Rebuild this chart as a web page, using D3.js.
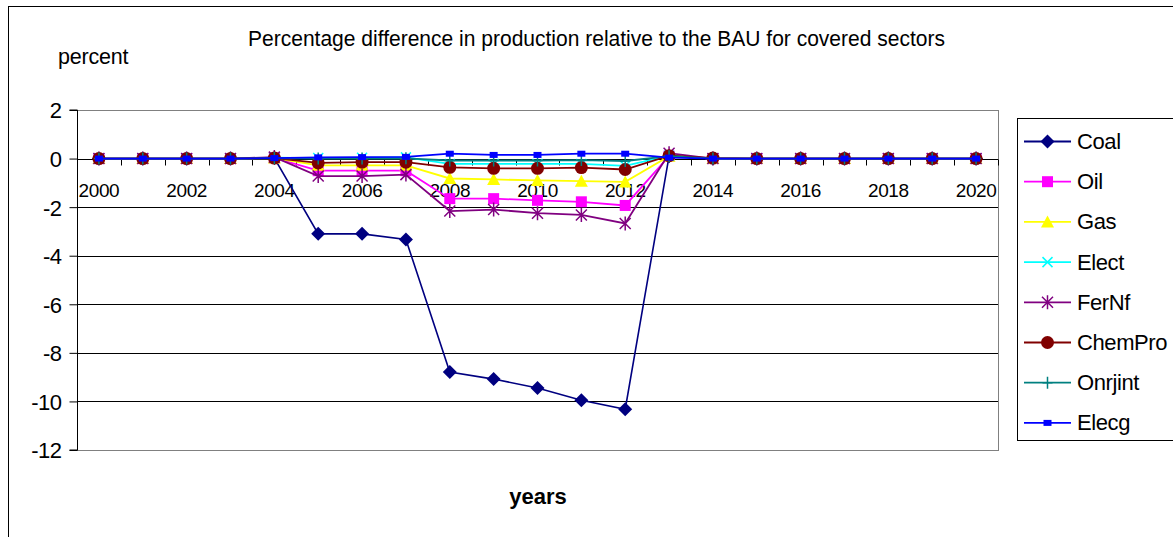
<!DOCTYPE html>
<html>
<head>
<meta charset="utf-8">
<script src="https://cdn.jsdelivr.net/npm/d3@7"></script>
<style>
  html, body { margin: 0; padding: 0; background: #fff; }
  svg { display: block; font-family: "Liberation Sans", Arial, sans-serif; }
</style>
</head>
<body>
<svg id="chart" width="1173" height="537"></svg>
<script>
// Years on the category axis
const years = d3.range(2000, 2021);
const yearLabels = years.filter(y => y % 2 === 0);
const yTicks = [2, 0, -2, -4, -6, -8, -10, -12];

// Percentage difference relative to BAU, one array per sector (2000..2020)
const coal     = [0, 0, 0, 0, 0.02, -3.1, -3.1, -3.33, -8.79, -9.08, -9.45, -9.95, -10.32, 0.1, 0, 0, 0, 0, 0, 0, 0];
const oil      = [0, 0, 0, 0, 0.03, -0.5, -0.5, -0.5, -1.65, -1.65, -1.72, -1.78, -1.93, 0.1, 0, 0, 0, 0, 0, 0, 0];
const gas      = [0, 0, 0, 0, 0.02, -0.28, -0.28, -0.28, -0.82, -0.86, -0.9, -0.93, -0.96, 0.1, 0, 0, 0, 0, 0, 0, 0];
const elect    = [0, 0, 0, 0, 0.04, 0.02, 0.03, 0.05, -0.22, -0.22, -0.22, -0.22, -0.3, 0.12, 0, 0, 0, 0, 0, 0, 0];
const fernf    = [0, 0, 0, 0, 0.06, -0.72, -0.72, -0.66, -2.16, -2.1, -2.25, -2.32, -2.67, 0.22, 0, 0, 0, 0, 0, 0, 0];
const chempro  = [0, 0, 0, 0, 0.02, -0.18, -0.15, -0.15, -0.36, -0.4, -0.4, -0.37, -0.45, 0.12, 0.02, 0, 0, 0, 0, 0, 0];
const onrjint  = [0, 0, 0, 0, 0.02, 0, 0, 0.01, -0.08, -0.08, -0.08, -0.06, -0.1, 0.1, 0, 0, 0, 0, 0, 0, 0];
const elecg    = [0, 0, 0, 0, 0.02, 0.05, 0.06, 0.07, 0.2, 0.15, 0.15, 0.2, 0.2, 0.04, 0, 0, 0, 0, 0, 0, 0];

const seriesNames = ["Coal", "Oil", "Gas", "Elect", "FerNf", "ChemPro", "Onrjint", "Elecg"];
const seriesValues = [coal, oil, gas, elect, fernf, chempro, onrjint, elecg];

const colors = {
  Coal: "#000080", Oil: "#FF00FF", Gas: "#FFFF00", Elect: "#00FFFF",
  FerNf: "#800080", ChemPro: "#800000", Onrjint: "#008080", Elecg: "#0000FF"
};

const svg = d3.select("#chart");

// Outer chart frame
svg.append("rect").attr("x", 8.5).attr("y", 6.5).attr("width", 1200).attr("height", 600)
  .attr("fill", "none").attr("stroke", "#000").attr("stroke-width", 1);

const plot = { left: 77, right: 998, top: 110, bottom: 450 };

const x = d3.scalePoint().domain(years).range([plot.left, plot.right]).padding(0.5);
const y = d3.scaleLinear().domain([-12, 2]).range([plot.bottom, plot.top]);
const step = x.step();

// Gridlines
svg.append("g").selectAll("line").data(yTicks.filter(v => v !== 2 && v !== -12 && v !== 0)).join("line")
  .attr("x1", plot.left).attr("x2", plot.right)
  .attr("y1", d => Math.round(y(d)) + 0.5).attr("y2", d => Math.round(y(d)) + 0.5)
  .attr("stroke", "#000").attr("stroke-width", 1);

// Plot area border
svg.append("rect").attr("x", plot.left + 0.5).attr("y", plot.top + 0.5)
  .attr("width", plot.right - plot.left).attr("height", plot.bottom - plot.top)
  .attr("fill", "none").attr("stroke", "#808080").attr("stroke-width", 1);

// Value axis
const yAxis = d3.axisLeft(y).tickValues(yTicks).tickSize(8).tickPadding(8).tickFormat(d => String(d));
const gy = svg.append("g").attr("transform", `translate(${plot.left + 0.5},0)`).call(yAxis);
gy.select(".domain").attr("stroke", "#000").attr("d", `M-8,${y(2)}H0V${y(-12)}H-8`);
gy.selectAll(".tick line").attr("stroke", "#000");
gy.selectAll(".tick text").attr("font-size", 22).attr("fill", "#000")
  .attr("font-family", "'Liberation Sans', Arial, sans-serif").attr("letter-spacing", -0.5)
  .attr("dy", "0.36em");

// Category axis along the zero line
const y0 = Math.round(y(0)) + 0.5;
svg.append("line").attr("x1", plot.left).attr("x2", plot.right).attr("y1", y0).attr("y2", y0)
  .attr("stroke", "#000");
svg.append("g").selectAll("line").data(d3.range(1, years.length + 1)).join("line")
  .attr("x1", k => Math.round(plot.left + k * step) + 0.5).attr("x2", k => Math.round(plot.left + k * step) + 0.5)
  .attr("y1", y0).attr("y2", y0 + 6).attr("stroke", "#000");
svg.append("g").selectAll("text").data(yearLabels).join("text")
  .attr("x", d => x(d)).attr("y", 197).attr("text-anchor", "middle")
  .attr("font-size", 19).attr("letter-spacing", -0.4).attr("fill", "#000").text(d => d);

// Marker shapes
function drawMarker(g, name, cx, cy) {
  const c = colors[name];
  if (name === "Coal") {
    g.append("path").attr("d", `M${cx},${cy - 7}L${cx + 7},${cy}L${cx},${cy + 7}L${cx - 7},${cy}Z`).attr("fill", c);
  } else if (name === "Oil") {
    g.append("rect").attr("x", cx - 5.5).attr("y", cy - 5.5).attr("width", 11).attr("height", 11).attr("fill", c);
  } else if (name === "Gas") {
    g.append("path").attr("d", `M${cx},${cy - 6.5}L${cx + 6.5},${cy + 5.5}L${cx - 6.5},${cy + 5.5}Z`).attr("fill", c);
  } else if (name === "Elect") {
    g.append("path").attr("d", `M${cx - 5},${cy - 5}L${cx + 5},${cy + 5}M${cx - 5},${cy + 5}L${cx + 5},${cy - 5}`)
      .attr("stroke", c).attr("stroke-width", 1.5);
  } else if (name === "FerNf") {
    g.append("path").attr("d", `M${cx - 5.5},${cy - 5.5}L${cx + 5.5},${cy + 5.5}M${cx - 5.5},${cy + 5.5}L${cx + 5.5},${cy - 5.5}M${cx},${cy - 7}V${cy + 7}`)
      .attr("stroke", c).attr("stroke-width", 1.5);
  } else if (name === "ChemPro") {
    g.append("circle").attr("cx", cx).attr("cy", cy).attr("r", 6.5).attr("fill", c);
  } else if (name === "Onrjint") {
    g.append("path").attr("d", `M${cx - 5},${cy}H${cx + 5}M${cx},${cy - 6}V${cy + 6}`)
      .attr("stroke", c).attr("stroke-width", 1.5);
  } else if (name === "Elecg") {
    g.append("rect").attr("x", cx - 4).attr("y", cy - 3).attr("width", 8).attr("height", 6).attr("fill", c);
  }
}

// Series lines and markers
const line = d3.line().x((d, i) => x(years[i])).y(d => y(d));
seriesNames.forEach((name, si) => {
  const vals = seriesValues[si];
  const g = svg.append("g");
  g.append("path").datum(vals).attr("d", line).attr("fill", "none")
    .attr("stroke", colors[name]).attr("stroke-width", name === "Coal" ? 1.6 : 1.8);
  vals.forEach((v, i) => drawMarker(g, name, x(years[i]), y(v)));
});

// Legend
const legend = svg.append("g");
legend.append("rect").attr("x", 1017.5).attr("y", 118.5).attr("width", 160).attr("height", 322)
  .attr("fill", "#fff").attr("stroke", "#000");
seriesNames.forEach((name, i) => {
  const ly = 141.5 + i * 40.2;
  legend.append("line").attr("x1", 1024).attr("x2", 1071).attr("y1", ly).attr("y2", ly)
    .attr("stroke", colors[name]).attr("stroke-width", 1.8);
  drawMarker(legend, name, 1047.5, ly);
  legend.append("text").attr("x", 1077).attr("y", ly + 7.5).attr("font-size", 22)
    .attr("letter-spacing", -0.4).attr("fill", "#000").text(name);
});

// Titles
svg.append("text").attr("x", 248).attr("y", 46).attr("font-size", 21.5)
  .attr("textLength", 697).attr("lengthAdjust", "spacingAndGlyphs").attr("fill", "#000")
  .text("Percentage difference in production relative to the BAU for covered sectors");
svg.append("text").attr("x", 58).attr("y", 64).attr("font-size", 21.5)
  .attr("letter-spacing", -0.2).attr("fill", "#000").text("percent");
svg.append("text").attr("x", 538).attr("y", 504).attr("font-size", 22).attr("font-weight", "bold")
  .attr("text-anchor", "middle").attr("fill", "#000").text("years");
</script>
</body>
</html>
